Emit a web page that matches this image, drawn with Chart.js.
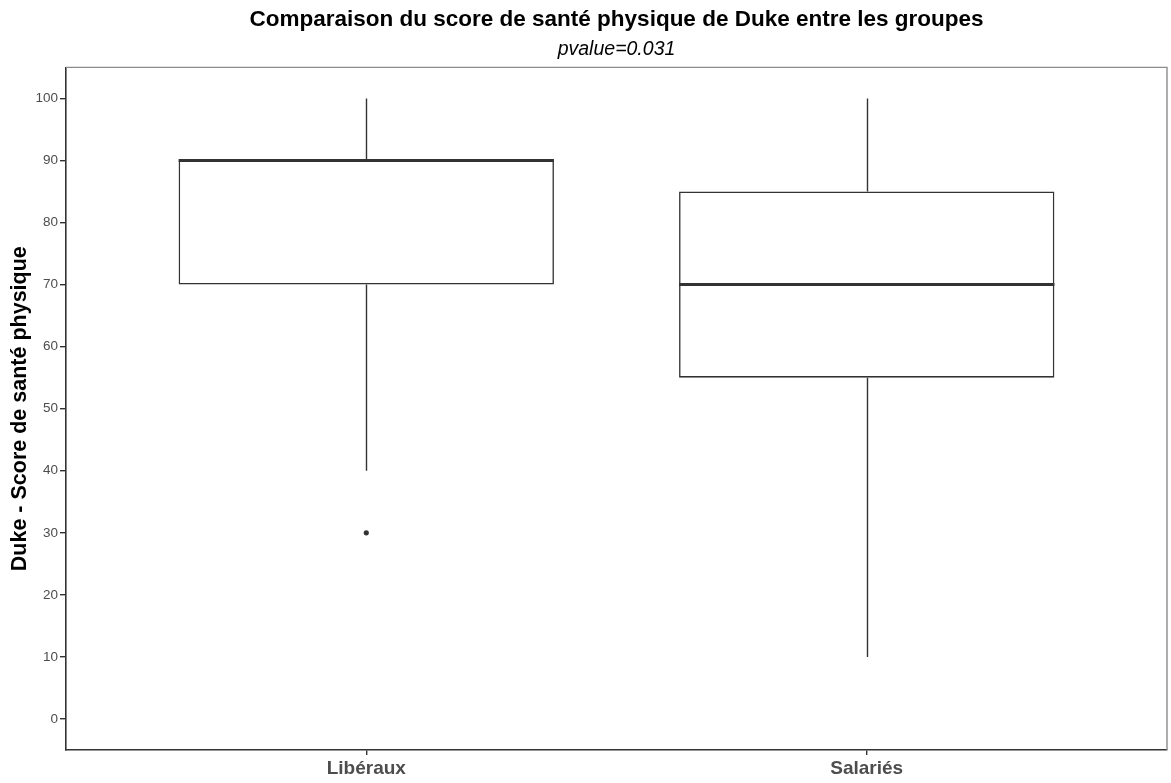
<!DOCTYPE html>
<html lang="fr">
<head>
<meta charset="utf-8">
<title>Score de santé physique de Duke</title>
<script src="https://cdn.jsdelivr.net/npm/chart.js@4.4.1/dist/chart.umd.min.js"></script>
<style>
  html, body { margin: 0; padding: 0; background: #ffffff; }
  #wrap { width: 1171px; height: 783px; }
</style>
</head>
<body>
<div id="wrap"><canvas id="chart" width="1171" height="783"></canvas></div>
<script>
// Groups and their box-plot summaries (Duke physical health score)
const categories = ['Libéraux', 'Salariés'];
const whiskerLow = [40, 10];
const q1 = [70, 55];
const median = [90, 70];
const q3 = [90, 85];
const whiskerHigh = [100, 100];
const outliers = [[30], []];
const yTickValues = [0, 10, 20, 30, 40, 50, 60, 70, 80, 90, 100];

const INK = '#333333';
const FONT = "'Liberation Sans', Arial, Helvetica, sans-serif";

// Boxes as floating bars, one per group (x = 1, 2, ...)
const boxData = categories.map((c, i) => ({ x: i + 1, y: [q1[i], q3[i]] }));
// Outlying observations as scatter points
const outlierData = [];
outliers.forEach((vals, i) => vals.forEach(v => outlierData.push({ x: i + 1, y: v })));

// Whiskers, medians and the light top/right panel border
const boxplotExtras = {
  id: 'boxplotExtras',
  beforeDatasetsDraw(chart) {
    const { ctx, scales: { x, y } } = chart;
    ctx.save();
    ctx.strokeStyle = INK;
    ctx.lineWidth = 1.4;
    ctx.lineCap = 'butt';
    categories.forEach((c, i) => {
      const px = Math.round(x.getPixelForValue(i + 1)) + 0.5;
      ctx.beginPath();
      ctx.moveTo(px, y.getPixelForValue(whiskerLow[i]));
      ctx.lineTo(px, y.getPixelForValue(q1[i]));
      ctx.moveTo(px, y.getPixelForValue(q3[i]));
      ctx.lineTo(px, y.getPixelForValue(whiskerHigh[i]));
      ctx.stroke();
    });
    ctx.restore();
  },
  afterDatasetsDraw(chart) {
    const { ctx, scales: { x, y } } = chart;
    const bars = chart.getDatasetMeta(0).data;
    ctx.save();
    ctx.strokeStyle = INK;
    ctx.lineWidth = 3;
    categories.forEach((c, i) => {
      const half = bars[i].width / 2;
      const px = x.getPixelForValue(i + 1);
      const py = y.getPixelForValue(median[i]);
      ctx.beginPath();
      ctx.moveTo(px - half, py);
      ctx.lineTo(px + half, py);
      ctx.stroke();
    });
    ctx.restore();
  },
  afterDraw(chart) {
    const { ctx, chartArea: a } = chart;
    ctx.save();
    ctx.strokeStyle = '#8c8c8c';
    ctx.lineWidth = 1.4;
    ctx.beginPath();
    ctx.moveTo(a.left, a.top);
    ctx.lineTo(a.right, a.top);
    ctx.lineTo(a.right, a.bottom);
    ctx.stroke();
    ctx.restore();
  }
};

new Chart(document.getElementById('chart'), {
  data: {
    datasets: [
      {
        type: 'bar',
        data: boxData,
        backgroundColor: '#ffffff',
        borderColor: INK,
        borderWidth: 1.6,
        borderSkipped: false,
        barPercentage: 0.75,
        categoryPercentage: 1.0,
        order: 2
      },
      {
        type: 'scatter',
        data: outlierData,
        pointRadius: 2.6,
        pointBackgroundColor: INK,
        pointBorderColor: INK,
        pointBorderWidth: 0,
        order: 1
      }
    ]
  },
  options: {
    responsive: false,
    animation: false,
    events: [],
    layout: { padding: { left: 0, right: -2, top: 0, bottom: 0 } },
    plugins: {
      legend: { display: false },
      tooltip: { enabled: false },
      title: {
        display: true,
        fullSize: false,
        text: 'Comparaison du score de santé physique de Duke entre les groupes',
        color: '#000000',
        font: { family: FONT, size: 22.5, weight: 'bold' },
        padding: { top: 6, bottom: 5 }
      },
      subtitle: {
        display: true,
        fullSize: false,
        text: 'pvalue=0.031',
        color: '#000000',
        font: { family: FONT, size: 19.5, style: 'italic' },
        padding: { top: 0, bottom: 6 }
      }
    },
    scales: {
      x: {
        type: 'linear',
        min: 0.4,
        max: 2.6,
        offset: false,
        afterBuildTicks(scale) {
          scale.ticks = categories.map((c, i) => ({ value: i + 1 }));
        },
        afterFit(scale) { scale.height = 33; },
        grid: { display: true, drawOnChartArea: false, drawTicks: true, tickLength: 5, color: INK, lineWidth: 1.4, offset: false },
        border: { display: true, color: INK, width: 1.6 },
        ticks: {
          padding: 2,
          color: '#4D4D4D',
          font: { family: FONT, size: 19, weight: 'bold' },
          maxRotation: 0,
          callback: (v) => categories[Math.round(v) - 1]
        }
      },
      y: {
        type: 'linear',
        min: -5,
        max: 105,
        afterBuildTicks(scale) {
          scale.ticks = yTickValues.map(v => ({ value: v }));
        },
        afterFit(scale) { scale.width = 66; },
        grid: { display: true, drawOnChartArea: false, drawTicks: true, tickLength: 6, color: INK, lineWidth: 1.4 },
        border: { display: true, color: INK, width: 1.6 },
        ticks: {
          padding: 2,
          color: '#4D4D4D',
          font: { family: FONT, size: 13.5 }
        },
        title: {
          display: true,
          text: 'Duke - Score de santé physique',
          color: '#000000',
          font: { family: FONT, size: 21.5, weight: 'bold' },
          padding: { top: 7, bottom: 0 }
        }
      }
    }
  },
  plugins: [boxplotExtras]
});
</script>
</body>
</html>
